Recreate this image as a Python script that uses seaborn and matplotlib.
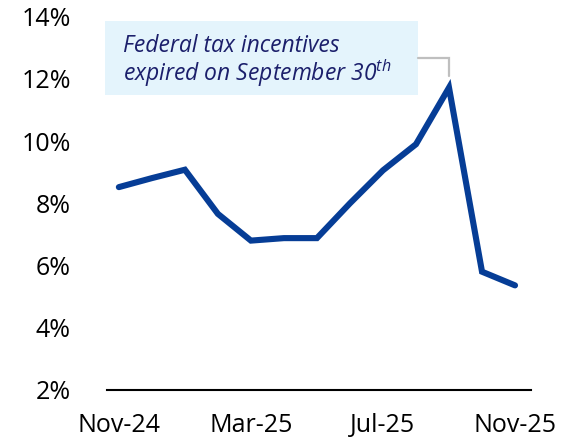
import numpy as np
import pandas as pd
import matplotlib
matplotlib.use("Agg")
import matplotlib.pyplot as plt
import seaborn as sns
from matplotlib.patches import Rectangle

months = ["Nov-24", "Dec-24", "Jan-25", "Feb-25", "Mar-25", "Apr-25", "May-25",
          "Jun-25", "Jul-25", "Aug-25", "Sep-25", "Oct-25", "Nov-25"]
share = [8.52, 8.81, 9.08, 7.66, 6.8, 6.88, 6.88, 8.0, 9.06, 9.9, 11.72, 5.8, 5.36]
tick_labels = ["Nov-24", "Mar-25", "Jul-25", "Nov-25"]
y_ticks = [2, 4, 6, 8, 10, 12, 14]

df = pd.DataFrame({"month": months, "share": share})
df["pos"] = np.arange(len(df))

sns.set_style("white")
plt.rcParams["font.family"] = ["Open Sans", "DejaVu Sans"]
plt.rcParams["mathtext.fontset"] = "custom"
plt.rcParams["mathtext.it"] = "Open Sans:italic"
plt.rcParams["mathtext.rm"] = "Open Sans"

fig = plt.figure(figsize=(5.69, 4.41), dpi=100)
ax = fig.add_axes([0.188, 0.116, 0.745, 0.846])

sns.lineplot(data=df, x="pos", y="share", ax=ax, color="#063D96",
             linewidth=4.4, solid_capstyle="round", solid_joinstyle="miter")

ax.set_xlim(-0.36, 12.48)
ax.set_ylim(2, 14)
ax.set_yticks(y_ticks)
ax.set_yticklabels([f"{v}%" for v in y_ticks])
ax.set_xticks([months.index(m) for m in tick_labels])
ax.set_xticklabels(tick_labels)
ax.tick_params(axis="both", length=0, labelsize=18, colors="black")
ax.tick_params(axis="y", pad=26)
ax.tick_params(axis="x", pad=17)
ax.set_xlabel("")
ax.set_ylabel("")
for s in ["top", "right", "left"]:
    ax.spines[s].set_visible(False)
ax.spines["bottom"].set_color("black")
ax.spines["bottom"].set_linewidth(1.5)

# callout box
ax.add_patch(Rectangle((-0.42, 11.48), 9.48, 2.39, facecolor="#E4F4FC",
                       edgecolor="none", clip_on=False, zorder=0))
ax.text(0.12, 12.87, "Federal tax incentives", style="italic", fontsize=16.5,
        color="#1B1F6B", va="baseline")
ax.text(0.12, 11.94, "expired on September 30$^{th}$", style="italic", fontsize=16.5,
        color="#1B1F6B", va="baseline")
ax.plot([9.06, 10, 10], [12.68, 12.68, 12.1], color="#BFBFBF", linewidth=1.6,
        solid_joinstyle="miter")

fig.savefig("out.png", dpi=100)
